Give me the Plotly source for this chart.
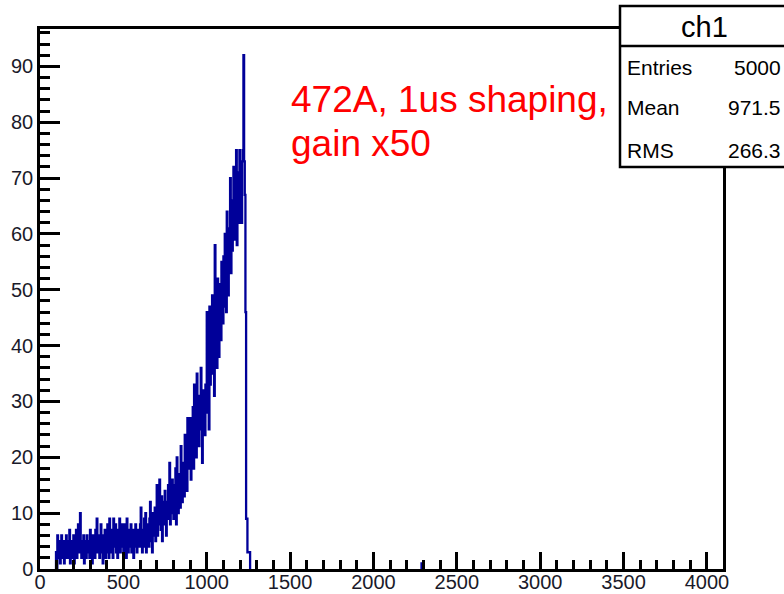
import numpy as np
import plotly.graph_objects as go

# ---- data (histogram "ch1", bin width 4 ADC channels) ----
bin_width = 4
x_max = 4096
first_bin_low = 96
counts = [
    3, 0, 6, 2, 5, 3, 1, 4, 6, 2, 3, 5, 1, 4, 2, 6, 3, 5, 2, 4, 7, 1, 3, 5, 2,
    5, 6, 1, 4, 3, 7, 2, 5, 8, 3, 6, 10, 4, 2, 5, 3, 6, 1, 4, 5, 2, 6, 3, 5, 4,
    2, 7, 4, 5, 1, 6, 3, 5, 2, 7, 4, 9, 3, 5, 6, 2, 4, 8, 3, 5, 1, 6, 4, 7, 2,
    6, 3, 8, 5, 2, 9, 4, 6, 3, 7, 2, 9, 5, 4, 8, 3, 6, 2, 7, 5, 9, 3, 4, 6, 8,
    5, 3, 6, 8, 4, 2, 9, 5, 3, 7, 4, 6, 8, 3, 5, 7, 2, 6, 4, 8, 5, 3, 7, 4, 6,
    4, 8, 11, 5, 3, 7, 6, 9, 4, 10, 3, 5, 8, 6, 4, 9, 12, 5, 7, 3, 10, 6, 8, 11, 5,
    9, 15, 6, 11, 8, 16, 10, 7, 13, 5, 9, 12, 8, 14, 10, 6, 12, 9, 15, 11, 19, 8, 13, 10, 16,
    11, 9, 15, 12, 18, 8, 20, 13, 10, 17, 14, 11, 22, 16, 12, 19, 15, 13, 24, 17, 21, 14, 27, 18, 23,
    20, 27, 16, 25, 21, 29, 18, 33, 24, 28, 20, 35, 26, 31, 22, 30, 25, 36, 27, 19, 32, 26, 29, 24, 33,
    28, 46, 30, 39, 25, 47, 33, 42, 35, 49, 38, 44, 31, 58, 40, 47, 36, 52, 43, 38, 51, 45, 41, 55, 48,
    44, 56, 47, 60, 52, 46, 64, 55, 49, 61, 58, 70, 53, 66, 57, 62, 72, 59, 66, 63, 75, 58, 68, 71, 62,
    75, 67, 70, 62, 73, 75, 92, 73, 67, 46, 9, 9, 3, 3, 3, 3,
]
extra_bin_low = [2288]
extra_counts = [1]

stats_title = "ch1"
stats_labels = ["Entries", "Mean", "RMS"]
stats_values = ["5000", "971.5", "266.3"]
note_lines = ["472A, 1us shaping,", "gain x50"]


# ---- build step outline of each non-empty run of bins ----
def step_path(start, vals, w):
    e = [start + k * w for k in range(len(vals) + 1)]
    return [e[0]] + e[:-1] + [e[-1]], [0] + list(vals) + [0]

xs, ys = step_path(first_bin_low, counts, bin_width)
for xl, c in zip(extra_bin_low, extra_counts):
    sx, sy = step_path(xl, [c], bin_width)
    xs += [None] + sx
    ys += [None] + sy

FONT = "Liberation Sans, Arial, sans-serif"
fig = go.Figure()
fig.add_trace(go.Scatter(x=xs, y=ys, mode="lines", line=dict(shape="hv", color="#000099", width=2.3),
                         connectgaps=False, hoverinfo="skip", showlegend=False))

# plot area in pixels: x 40..723, y 29..569
L, R, T, B = 40, 723, 29, 569
W, H = R - L, B - T
def px(xp): return (xp - L) / W
def py(yp): return (B - yp) / H

axis_common = dict(showline=True, linecolor="black", linewidth=2.5, mirror=True, ticks="inside",
                   tickcolor="black", tickwidth=2.5, showgrid=False, zeroline=False, automargin=False,
                   layer="above traces",
                   tickfont=dict(family=FONT, size=20, color="#1a1a2a"))
fig.update_xaxes(range=[0, x_max], dtick=500, tick0=0, ticklen=17, ticklabelstandoff=-7,
                 minor=dict(dtick=100, tick0=0, ticklen=9, ticks="inside", tickwidth=2.5, tickcolor="black", showgrid=False),
                 **axis_common)
fig.update_yaxes(range=[0, 96.7], dtick=10, tick0=0, ticklen=20,
                 minor=dict(dtick=2, tick0=0, ticklen=10, ticks="inside", tickwidth=2.5, tickcolor="black", showgrid=False),
                 **axis_common)

shapes = [
    dict(type="rect", xref="paper", yref="paper", x0=px(620), x1=px(790), y0=py(167), y1=py(6),
         fillcolor="white", line=dict(color="black", width=2.5), layer="above"),
    dict(type="line", xref="paper", yref="paper", x0=px(620), x1=px(790), y0=py(46), y1=py(46),
         line=dict(color="black", width=2.5), layer="above"),
]
annotations = [
    dict(xref="paper", yref="paper", x=px(704), y=py(27), text=stats_title, showarrow=False,
         xanchor="center", yanchor="middle", font=dict(family=FONT, size=29, color="black")),
]
for line, yy in zip(note_lines, [99, 144]):
    annotations.append(dict(xref="paper", yref="paper", x=px(289), y=py(yy), text=line, showarrow=False,
                            xanchor="left", yanchor="middle", align="left",
                            font=dict(family=FONT, size=37, color="#ff0000")))
row_y = [68, 108, 150]
for lab, val, yy in zip(stats_labels, stats_values, row_y):
    annotations.append(dict(xref="paper", yref="paper", x=px(625), y=py(yy), text=lab, showarrow=False,
                            xanchor="left", yanchor="middle", font=dict(family=FONT, size=21, color="black")))
    annotations.append(dict(xref="paper", yref="paper", x=px(783), y=py(yy), text=val, showarrow=False,
                            xanchor="right", yanchor="middle", font=dict(family=FONT, size=21, color="black")))

fig.update_layout(width=784, height=594, margin=dict(l=L, r=784 - R, t=T, b=594 - B),
                  paper_bgcolor="white", plot_bgcolor="white", shapes=shapes, annotations=annotations,
                  showlegend=False)
fig.write_html("out.html")
